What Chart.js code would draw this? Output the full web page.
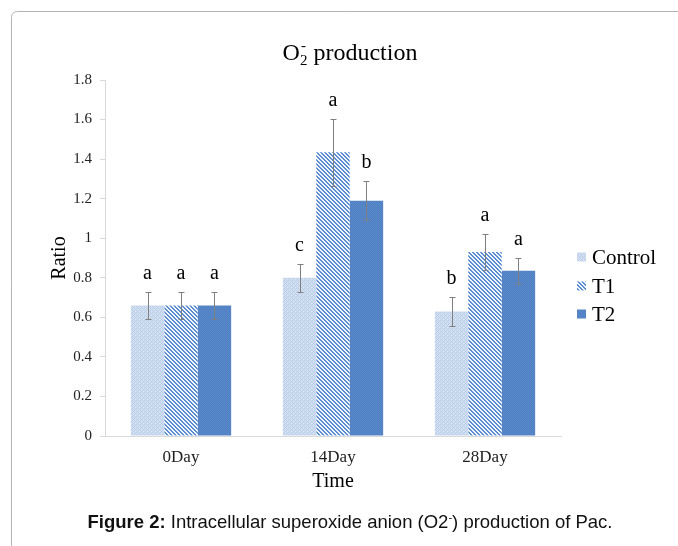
<!DOCTYPE html>
<html>
<head>
<meta charset="utf-8">
<script src="https://cdn.jsdelivr.net/npm/chart.js@4"></script>
<style>
  html, body { margin: 0; padding: 0; background: #fff; }
  #wrap { position: relative; width: 678px; height: 546px; overflow: hidden; }
  #c { position: absolute; left: 0; top: 0; }
  #caption { position: absolute; left: 0; width: 700px; top: 511px; text-align: center;
    font-family: 'Liberation Sans', Arial, sans-serif; font-size: 18.5px; color: #111; line-height: 22px; white-space: nowrap; }
  #caption sup { font-size: 11px; vertical-align: 7px; line-height: 0; }
</style>
</head>
<body>
<div id="wrap">
  <canvas id="c" width="678" height="546"></canvas>
  <div id="caption"><b>Figure 2:</b> Intracellular superoxide anion (O2<sup>-</sup>) production of Pac.</div>
</div>
<script>
// ---- data ----
const categories = ['0Day', '14Day', '28Day'];
const seriesNames = ['Control', 'T1', 'T2'];
const controlValues = [0.66, 0.80, 0.63];
const controlErrors = [0.07, 0.07, 0.075];
const controlLetters = ['a', 'c', 'b'];
const t1Values = [0.66, 1.435, 0.93];
const t1Errors = [0.07, 0.17, 0.09];
const t1Letters = ['a', 'a', 'a'];
const t2Values = [0.66, 1.19, 0.835];
const t2Errors = [0.07, 0.10, 0.067];
const t2Letters = ['a', 'b', 'a'];
const yTickLabels = ['0', '0.2', '0.4', '0.6', '0.8', '1', '1.2', '1.4', '1.6', '1.8'];

const SERIF = "'Liberation Serif', 'Times New Roman', serif";

// ---- fill patterns ----
function makePattern(size, base, fg, test) {
  const c = document.createElement('canvas');
  c.width = size; c.height = size;
  const g = c.getContext('2d');
  g.fillStyle = base; g.fillRect(0, 0, size, size);
  g.fillStyle = fg;
  for (let y = 0; y < size; y++) for (let x = 0; x < size; x++) if (test(x, y)) g.fillRect(x, y, 1, 1);
  return g.createPattern(c, 'repeat');
}
const controlFill = makePattern(4, '#d3e0f2', '#b8cce8', (x, y) => (x + y) % 4 === 0 || (x - y + 4) % 4 === 2);
const t1Fill = makePattern(4, '#f2f6fc', '#5b8dd2', (x, y) => ((x - y + 8) % 4) < 2);
const t2Fill = makePattern(2, '#4f80c3', '#5a89c9', (x, y) => (x + y) % 2 === 0);
const fills = [controlFill, t1Fill, t2Fill];

// ---- plugins ----
const framePlugin = {
  id: 'frame',
  beforeDraw(chart) {
    const c = chart.ctx;
    c.save();
    c.strokeStyle = '#b4b4b4';
    c.lineWidth = 1;
    c.beginPath();
    c.moveTo(11.5, 546);
    c.lineTo(11.5, 17.5);
    c.quadraticCurveTo(11.5, 11.5, 17.5, 11.5);
    c.lineTo(678, 11.5);
    c.stroke();
    // title  O2- production
    c.fillStyle = '#000';
    c.textBaseline = 'alphabetic';
    const big = '24px ' + SERIF, small = '15px ' + SERIF;
    c.font = big; const wO = c.measureText('O').width; const wRest = c.measureText(' production').width;
    c.font = small; const w2 = c.measureText('2').width; const wm = c.measureText('-').width;
    const total = wO + Math.max(w2, wm) + wRest;
    let x = 350 - total / 2, base = 60;
    c.textAlign = 'left';
    c.font = big; c.fillText('O', x, base); x += wO;
    c.font = small; c.fillText('2', x, base + 5); c.fillText('-', x + 1, base - 10); x += Math.max(w2, wm);
    c.font = big; c.fillText(' production', x, base);
    c.restore();
  }
};

const errPlugin = {
  id: 'errbars',
  afterDatasetsDraw(chart) {
    const c = chart.ctx, ys = chart.scales.y;
    c.save();
    chart.data.datasets.forEach((ds, i) => {
      const meta = chart.getDatasetMeta(i);
      meta.data.forEach((bar, j) => {
        const v = ds.data[j], e = ds.errors[j];
        const yt = Math.round(ys.getPixelForValue(v + e)) + 0.5;
        const yb = Math.round(ys.getPixelForValue(v - e)) + 0.5;
        const x = Math.round(bar.x) + 0.5;
        c.strokeStyle = '#7f7f7f'; c.lineWidth = 1;
        c.beginPath();
        c.moveTo(x, yt); c.lineTo(x, yb);
        c.moveTo(x - 3, yt); c.lineTo(x + 3, yt);
        c.moveTo(x - 3, yb); c.lineTo(x + 3, yb);
        c.stroke();
        c.fillStyle = '#000';
        c.font = '20px ' + SERIF;
        c.textAlign = 'center'; c.textBaseline = 'alphabetic';
        c.fillText(ds.letters[j], bar.x, yt - 14);
      });
    });
    c.restore();
  }
};

const legendPlugin = {
  id: 'customLegend',
  afterDraw(chart) {
    const c = chart.ctx;
    c.save();
    const rows = [257, 286, 314];
    chart.data.datasets.forEach((ds, i) => {
      c.fillStyle = ds.backgroundColor;
      c.fillRect(577, rows[i] - 4.5, 9, 9);
      c.fillStyle = '#000';
      c.font = '21px ' + SERIF;
      c.textAlign = 'left'; c.textBaseline = 'middle';
      c.fillText(ds.label, 592, rows[i] + 1);
    });
    c.restore();
  }
};

const seriesVals = [controlValues, t1Values, t2Values];
const seriesErrs = [controlErrors, t1Errors, t2Errors];
const seriesLetters = [controlLetters, t1Letters, t2Letters];

new Chart(document.getElementById('c'), {
  type: 'bar',
  data: {
    labels: categories,
    datasets: seriesNames.map((name, i) => ({
      label: name,
      data: seriesVals[i],
      errors: seriesErrs[i],
      letters: seriesLetters[i],
      backgroundColor: fills[i],
      borderWidth: 0,
      categoryPercentage: 0.66,
      barPercentage: 1.0
    }))
  },
  options: {
    responsive: false,
    animation: false,
    devicePixelRatio: 1,
    layout: { padding: { top: 80, right: 117, bottom: 0, left: 0 } },
    plugins: { legend: { display: false }, title: { display: false }, tooltip: { enabled: false } },
    scales: {
      x: {
        grid: { display: true, drawOnChartArea: false, drawTicks: false },
        border: { color: '#d9d9d9' },
        ticks: { color: '#222', font: { family: SERIF, size: 17 }, padding: 11 },
        title: { display: true, text: 'Time', color: '#000', font: { family: SERIF, size: 20 }, padding: { top: 0, bottom: 52 } },
        afterFit(s) { s.height = 110; s.paddingLeft = 0; s.paddingRight = 0; }
      },
      y: {
        min: 0, max: 1.8,
        grid: { display: true, drawOnChartArea: false, drawTicks: true, tickLength: 5, color: '#d9d9d9' },
        border: { color: '#d9d9d9' },
        ticks: {
          stepSize: 0.2, color: '#222', font: { family: SERIF, size: 15 }, padding: 8,
          callback: (v, idx) => yTickLabels[idx]
        },
        title: { display: true, text: 'Ratio', color: '#000', font: { family: SERIF, size: 20 }, padding: { top: 48, bottom: 0 } },
        afterFit(s) { s.width = 105; s.paddingTop = 0; s.paddingBottom = 0; }
      }
    }
  },
  plugins: [framePlugin, errPlugin, legendPlugin]
});
</script>
</body>
</html>
